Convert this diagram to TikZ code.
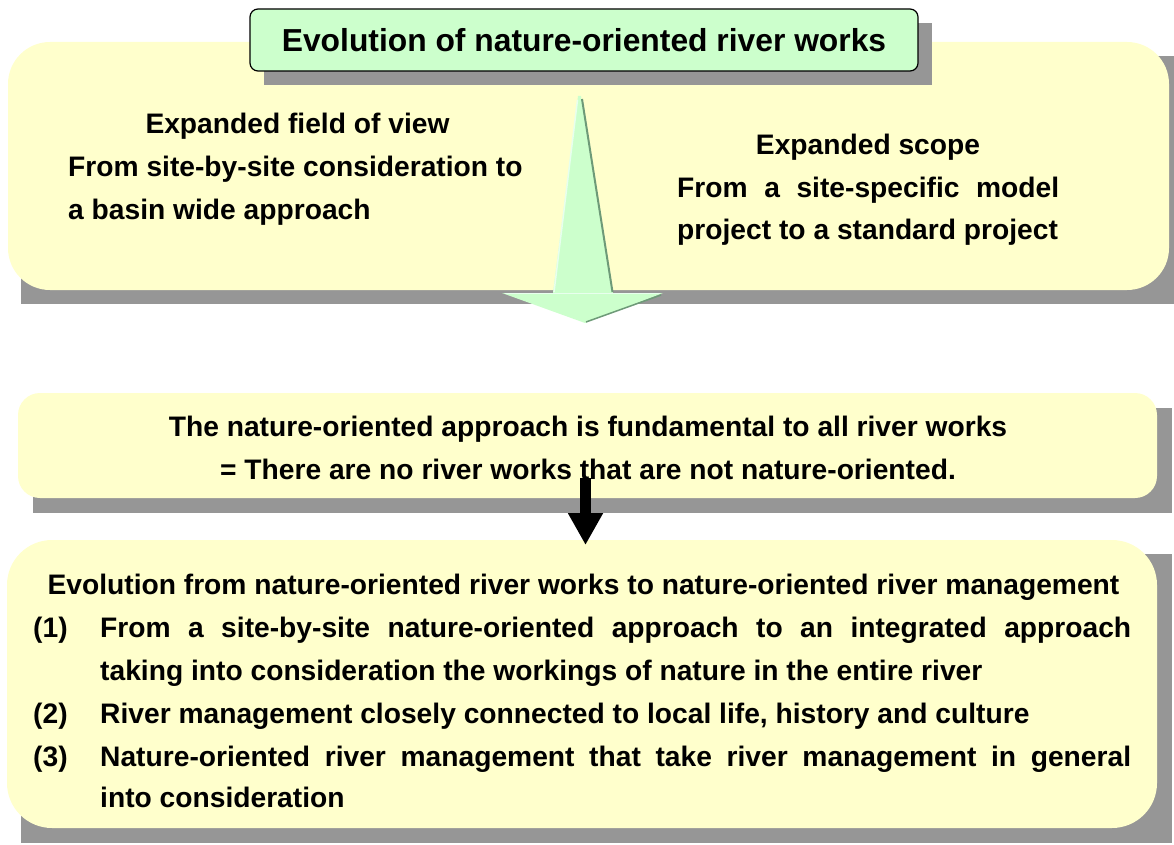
\documentclass[tikz,border=0pt]{standalone}
\usepackage{fontspec}
\setmainfont{Liberation Sans}
\usetikzlibrary{arrows.meta}
\definecolor{paleyellow}{HTML}{FFFFCC}
\definecolor{palegreen}{HTML}{CCFFCC}
\definecolor{shadowgray}{HTML}{969696}
\definecolor{arrowedge}{HTML}{6E9A78}
\definecolor{arrowlight}{HTML}{E8FFEE}
\begin{document}
\begin{tikzpicture}[x=1pt,y=-1pt,
  panel/.style={fill=paleyellow, draw=none, inner sep=0pt, outer sep=0pt},
  shade/.style={fill=shadowgray},
  titlebox/.style={fill=palegreen, draw=black, line width=1.2pt, rounded corners=8pt,
    inner sep=0pt, outer sep=0pt, font=\fontsize{31.8}{38}\selectfont\bfseries},
  txt/.style={inner sep=0pt, font=\fontsize{28.2}{34}\selectfont\bfseries},
  blackarrow/.style={line width=11pt, -{Triangle[width=33pt,length=32pt]}}]
\useasboundingbox (0,0) rectangle (1174,845);

% upper panel with its shadow
\fill[shade] (21,56) rectangle (1174,304);
\node[panel, rounded corners=42pt, minimum width=1161pt, minimum height=248pt] (scope) at (588.5,166) {};

% heading tab
\fill[shade] (264,23) rectangle (932,85);
\node[titlebox, minimum width=668pt, minimum height=62pt] (title) at (584,40) {Evolution of nature-oriented river works};

% broad green arrow
\coordinate (gtop) at (579.5,96);
\coordinate (gtip) at (585,323);
\fill[palegreen] (578,96) -- (581,96) -- (613,293) -- (663,293) -- (gtip) -- (502,293) -- (553,293) -- cycle;
\draw[arrowlight, line width=1.5pt] (577.5,100) -- (554,292);
\draw[arrowlight, line width=1.5pt] (505,293.5) -- (660,293.5);
\draw[arrowedge, line width=2pt] (582,99) -- (612.5,292);
\draw[arrowedge, line width=1.5pt] (661,295) -- (586,322);

% texts of the upper panel
\node[txt, anchor=base] (fov1) at (297.5,134) {Expanded field of view};
\node[txt, anchor=base west] (fov2) at (68,176) {From site-by-site consideration to};
\node[txt, anchor=base west] (fov3) at (68,219) {a basin wide approach};
\node[txt, anchor=base] (sc1) at (868,155) {Expanded scope};
\node[txt, anchor=base west] (sc2) at (677,197) {\makebox[382pt][s]{From a site-specific model}};
\node[txt, anchor=base west] (sc3) at (677,239) {project to a standard project};

% middle panel
\fill[shade] (33,408) rectangle (1172,513);
\node[panel, rounded corners=22pt, minimum width=1139pt, minimum height=105pt] (basis) at (587.5,445.5) {};

% lower panel
\fill[shade] (21,554) rectangle (1172,843);
\node[panel, rounded corners=45pt, minimum width=1150pt, minimum height=288pt] (mgmt) at (582,684) {};

% texts of the middle panel
\node[txt, anchor=base] (fd1) at (588,436) {The nature-oriented approach is fundamental to all river works};
\node[txt, anchor=base] (fd2) at (588,479) {= There are no river works that are not nature-oriented.};

% texts of the lower panel
\node[txt, anchor=base] (ev0) at (583.5,594) {Evolution from nature-oriented river works to nature-oriented river management};
\node[txt, anchor=base west] (n1) at (33,637) {(1)};
\node[txt, anchor=base west] (ev1a) at (100,637) {\makebox[1031pt][s]{From a site-by-site nature-oriented approach to an integrated approach}};
\node[txt, anchor=base west] (ev1b) at (100,680) {taking into consideration the workings of nature in the entire river};
\node[txt, anchor=base west] (n2) at (33,723) {(2)};
\node[txt, anchor=base west] (ev2) at (100,723) {River management closely connected to local life, history and culture};
\node[txt, anchor=base west] (n3) at (33,766) {(3)};
\node[txt, anchor=base west] (ev3a) at (100,766) {\makebox[1031pt][s]{Nature-oriented river management that take river management in general}};
\node[txt, anchor=base west] (ev3b) at (100,807) {into consideration};

% black arrow from the middle panel into the lower one
\coordinate (kstart) at (585.5,478);
\coordinate (kend) at (585.5,545);
\draw[blackarrow] (kstart) -- (kend);
\end{tikzpicture}
\end{document}
